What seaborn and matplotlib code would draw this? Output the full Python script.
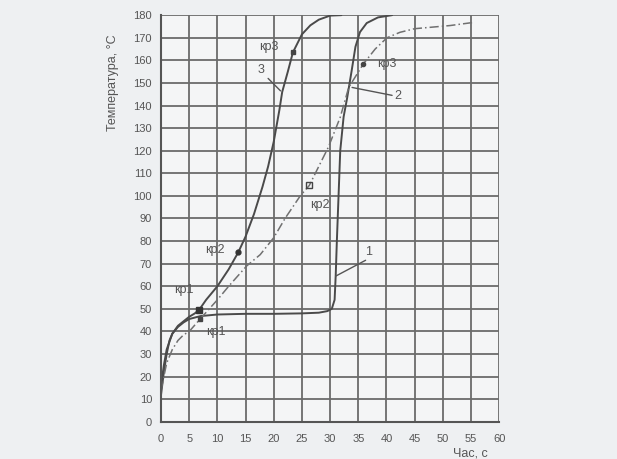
import matplotlib
matplotlib.use("Agg")
import matplotlib.pyplot as plt
import seaborn as sns
import pandas as pd

# curve 1: plateau near 48 °C, then sharp rise
t1 = [0, 0.5, 1, 1.5, 2, 3, 4, 5, 7, 10, 15, 20, 25, 28, 29.5, 30.3, 30.8, 31.0, 31.2,
      31.5, 31.8, 32.4, 33.0, 33.8, 34.5, 35.3, 36.5, 38.5, 41]
T1 = [12, 22, 30, 36, 39, 42, 44, 45.5, 46.8, 47.5, 47.8, 47.8, 48, 48.3, 49, 50, 54, 65, 80,
      100, 120, 135, 143, 155, 166, 172.5, 176.5, 179, 180]

# curve 2: dash-dot, slow rise
t2 = [0, 0.5, 1, 2, 3, 4, 5, 6.9, 10, 12, 15.2, 17.6, 20, 22, 24.7, 26.3, 29.7, 31.8, 33.3,
      35.9, 38, 40.1, 42.4, 45, 51.3, 55.5]
T2 = [14, 20, 26, 32, 36, 38.5, 40, 45.4, 54, 60, 69, 74, 81.5, 90, 100, 104.6, 121.6, 134.8,
      148, 158.4, 165, 170, 172.4, 174, 175.4, 176.8]

# curve 3: fast rise
t3 = [0, 0.5, 1, 2, 3, 4, 5, 6, 6.8, 8, 10, 12, 13.7, 15, 16.5, 18, 19, 20, 21, 21.5, 22.5,
      23.4, 24.3, 25, 26.5, 28, 30, 32]
T3 = [16, 25, 32, 39, 42.5, 44.5, 46.5, 48, 49.7, 54, 60, 67.5, 75, 82, 92, 104, 113, 124,
      138, 146, 155, 163.5, 168, 171.5, 175.5, 178, 179.8, 180]

# critical points (кр1, кр2, кр3)
kp3_t = [6.8, 13.7, 23.4]
kp3_T = [49.7, 75, 163.5]
kp2_t = [6.9, 26.3, 35.9]
kp2_T = [45.4, 104.6, 158.4]

sns.set_style("white")
plt.rcParams["font.family"] = ["Liberation Sans Narrow", "Liberation Sans", "DejaVu Sans"]

fig = plt.figure(figsize=(6.17, 4.59), dpi=100, facecolor="#eef0f2")
ax = fig.add_axes([0.261, 0.081, 0.548, 0.886])
ax.set_facecolor("#f4f5f6")

line_col = "#4a4a4a"
df1 = pd.DataFrame({"t": t1, "T": T1})
df2 = pd.DataFrame({"t": t2, "T": T2})
df3 = pd.DataFrame({"t": t3, "T": T3})
sns.lineplot(data=df1, x="t", y="T", sort=False, color=line_col, lw=1.4, ax=ax)
sns.lineplot(data=df2, x="t", y="T", sort=False, color="#707070", lw=1.1, ax=ax,
             linestyle=(0, (6, 2, 1, 2)))
sns.lineplot(data=df3, x="t", y="T", sort=False, color=line_col, lw=1.4, ax=ax)

ax.plot(kp3_t[0], kp3_T[0], "s", ms=5, color="#333333")
ax.plot(kp3_t[1], kp3_T[1], "o", ms=3.5, color="#333333")
ax.plot(kp3_t[2], kp3_T[2], "s", ms=3.5, color="#444444")
ax.plot(kp2_t[0], kp2_T[0], "s", ms=3.5, color="#444444")
ax.plot(kp2_t[1], kp2_T[1], "s", ms=4, mfc="none", mec="#444444", mew=1)
ax.plot(kp2_t[2], kp2_T[2], "o", ms=3, color="#444444")

ax.set_xlim(0, 60)
ax.set_ylim(0, 180)
ax.set_xticks(range(0, 61, 5))
ax.set_yticks(range(0, 181, 10))
ax.grid(True, color="#6b6b6b", lw=1.3)
ax.set_axisbelow(True)
for s in ["top", "right"]:
    ax.spines[s].set_visible(False)
for s in ["left", "bottom"]:
    ax.spines[s].set_color("#555555")
    ax.spines[s].set_linewidth(1.5)
ax.tick_params(axis="both", direction="inout", length=7, width=1.2, color="#555555",
               labelsize=8, labelcolor="#555555")
ax.tick_params(axis="x", pad=5)
ax.tick_params(axis="y", pad=3)
ax.set_xlabel("")
ax.set_ylabel("")

fig.text(0.183, 0.82, "Температура, °C", rotation=90, ha="center", va="center",
         fontsize=9, color="#555555")
fig.text(0.79, 0.012, "Час, с", ha="right", va="center", fontsize=9, color="#555555")

tc = "#555555"
ax.plot([31.0, 36.3], [64.5, 71.5], color=tc, lw=1)
ax.text(36.9, 75, "1", fontsize=9, color=tc, ha="center", va="center")
ax.plot([33.9, 41.0], [148, 144.5], color=tc, lw=1)
ax.text(41.4, 144.2, "2", fontsize=9, color=tc, ha="left", va="center")
ax.plot([19.0, 21.2], [152, 146.5], color=tc, lw=1)
ax.text(17.8, 155.5, "3", fontsize=9, color=tc, ha="center", va="center")

ax.text(19.2, 166, "кр3", fontsize=9, color=tc, ha="center", va="center")
ax.text(40.0, 158.4, "кр3", fontsize=9, color=tc, ha="center", va="center")
ax.text(9.5, 76, "кр2", fontsize=9, color=tc, ha="center", va="center")
ax.text(28.1, 95.8, "кр2", fontsize=9, color=tc, ha="center", va="center")
ax.text(4.1, 58.2, "кр1", fontsize=9, color=tc, ha="center", va="center")
ax.text(9.7, 39.8, "кр1", fontsize=9, color=tc, ha="center", va="center")

fig.savefig("out.png", dpi=100, facecolor=fig.get_facecolor())
